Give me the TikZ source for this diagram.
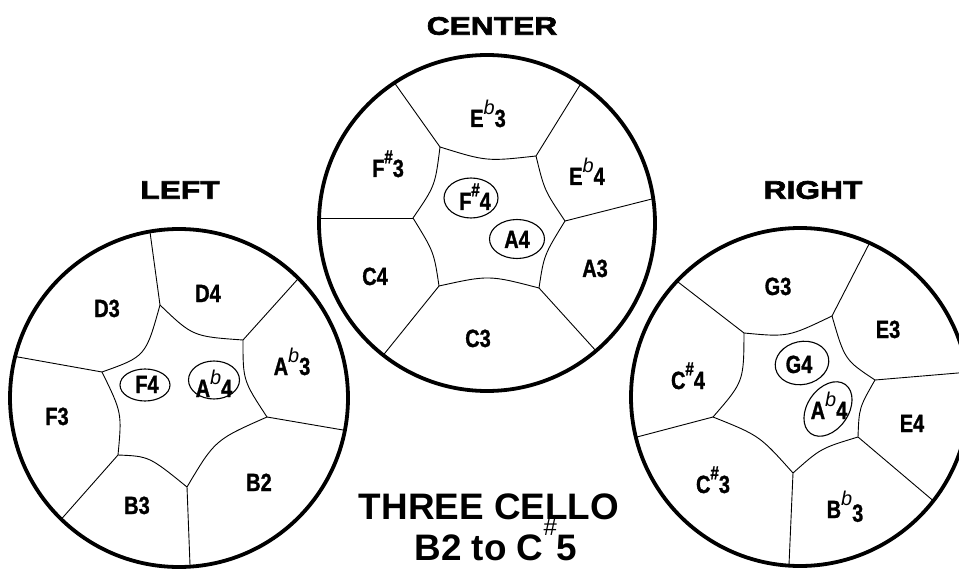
\documentclass[tikz,border=0pt]{standalone}
\usepackage{fontspec}
\setmainfont{Liberation Sans}
\newfontfamily\labfont{Liberation Sans}[FakeStretch=0.8,FakeBold=1.2]
\newfontfamily\titfont{Liberation Sans}[FakeStretch=1.25,FakeBold=2.5]
\usetikzlibrary{calc,shapes.geometric}
\newcommand\Fl[2]{#1\raisebox{0.5em}{\normalfont\fontsize{20}{20}\selectfont\itshape b}#2}
\newcommand\Sh[2]{#1\raisebox{0.55em}{\fontsize{19}{19}\selectfont\#}#2}
\tikzset{
  rim/.style={line width=3.8bp},
  seam/.style={line width=0.9bp},
  pad/.style={draw, line width=1.1bp, ellipse, inner sep=0pt},
  lab/.style={anchor=base, inner sep=0pt, font=\labfont\bfseries\fontsize{25}{25}\selectfont},
  ttl/.style={inner sep=0pt, font=\titfont\bfseries\fontsize{25.5}{25.5}\selectfont},
  big/.style={anchor=base, inner sep=0pt, font=\bfseries\fontsize{37}{37}\selectfont},
}
\begin{document}
\begin{tikzpicture}[x=1bp,y=-1bp]
\path[use as bounding box, fill=white] (0,0) rectangle (959,581);

% ---------- LEFT ----------
\coordinate (Lc) at (179,398);
\coordinate (L1) at (160,305); \coordinate (L2) at (243,340); \coordinate (L3) at (267,417);
\coordinate (L4) at (187,487); \coordinate (L5) at (118,455); \coordinate (L6) at (102,372);
\coordinate (Lm1) at (195,333); \coordinate (Lm2) at (246,380); \coordinate (Lm3) at (218,443);
\coordinate (Lm4) at (150,460); \coordinate (Lm5) at (119,413); \coordinate (Lm6) at (142,352);
\coordinate (Le1) at (150,232); \coordinate (Le2) at (297,280); \coordinate (Le3) at (343,430);
\coordinate (Le4) at (190,565); \coordinate (Le5) at (65,515); \coordinate (Le6) at (18,357);

% ---------- CENTER ----------
\coordinate (Cc) at (487,223);
\coordinate (C1) at (440,147); \coordinate (C2) at (536,156); \coordinate (C3) at (565,221);
\coordinate (C4) at (539,288); \coordinate (C5) at (439,286); \coordinate (C6) at (413,218);
\coordinate (Cm1) at (487,159); \coordinate (Cm2) at (546,190); \coordinate (Cm3) at (546,255);
\coordinate (Cm4) at (489,278); \coordinate (Cm5) at (432,252); \coordinate (Cm6) at (433,185);
\coordinate (Ce1) at (396,85); \coordinate (Ce2) at (580,85); \coordinate (Ce3) at (640,202);
\coordinate (Ce4) at (597,352); \coordinate (Ce5) at (385,353); \coordinate (Ce6) at (321,218);

% ---------- RIGHT ----------
\coordinate (Rc) at (800,397);
\coordinate (R1) at (744,333); \coordinate (R2) at (832,316); \coordinate (R3) at (875,380);
\coordinate (R4) at (858,437); \coordinate (R5) at (793,473); \coordinate (R6) at (713,417);
\coordinate (Rm1) at (788,334); \coordinate (Rm2) at (847,357); \coordinate (Rm3) at (861,408);
\coordinate (Rm4) at (822,450); \coordinate (Rm5) at (758,438); \coordinate (Rm6) at (740,380);
\coordinate (Re1) at (678,282); \coordinate (Re2) at (868,246); \coordinate (Re3) at (958,373);
\coordinate (Re4) at (930,498); \coordinate (Re5) at (789,565); \coordinate (Re6) at (637,437);

\foreach \P/\r in {L/169bp, C/168bp, R/169bp}{
  \begin{scope}
    \clip (\P c) circle[radius=\r];
    \foreach \i/\j in {1/2,2/3,3/4,4/5,5/6,6/1}
      \draw[seam] (\P\i) .. controls ($1.3333*(\P m\i)-0.1667*(\P\i)-0.1667*(\P\j)$) .. (\P\j);
    \foreach \i in {1,...,6}
      \draw[seam] (\P\i) -- ($(\P\i)!1.35!(\P e\i)$);
  \end{scope}
  \draw[rim] (\P c) circle[radius=\r];
}

% titles
\node[ttl] (tL) at (180,190) {LEFT};
\node[ttl] (tC) at (492,26) {CENTER};
\node[ttl] (tR) at (813,190) {RIGHT};

% left labels
\node[lab] (lD3) at (107,317) {D3};
\node[lab] (lD4) at (208,302) {D4};
\node[lab] (lAb3) at (292,375) {\Fl{A}{3}};
\node[lab] (lF3) at (57,425) {F3};
\node[lab] (lB3) at (137,514) {B3};
\node[lab] (lB2) at (259,491) {B2};
\node[pad, minimum width=50bp, minimum height=32bp] (eF4) at (145,385) {};
\node[lab] (lF4) at (147,393) {F4};
\node[pad, minimum width=51bp, minimum height=38bp] (eAb4) at (214,380) {};
\node[lab] (lAb4) at (214,397) {\Fl{A}{4}};

% center labels
\node[lab] (cEb3) at (488,127) {\Fl{E}{3}};
\node[lab] (cFs3) at (388,177) {\Sh{F}{3}};
\node[lab] (cEb4) at (587,185) {\Fl{E}{4}};
\node[lab] (cC4) at (375,285) {C4};
\node[lab] (cA3) at (595,277) {A3};
\node[lab] (cC3) at (478,347) {C3};
\node[pad, minimum width=54bp, minimum height=40bp] (eFs4) at (471,198) {};
\node[lab] (cFs4) at (475,210) {\Sh{F}{4}};
\node[pad, minimum width=55bp, minimum height=39bp] (eA4) at (517,239) {};
\node[lab] (cA4) at (517,248) {A4};

% right labels
\node[lab] (rG3) at (778,295) {G3};
\node[lab] (rE3) at (888,338) {E3};
\node[lab] (rCs4) at (688,389) {\Sh{C}{4}};
\node[lab] (rE4) at (912,432) {E4};
\node[lab] (rCs3) at (713,493) {\Sh{C}{3}};
\node[lab] (rBb3) at (845,518) {\Fl{B}{\raisebox{-0.15em}{3}}};
\node[pad, minimum width=54bp, minimum height=43bp, rotate=12] (eG4) at (802,363) {};
\node[lab] (rG4) at (799,373) {G4};
\node[pad, minimum width=60bp, minimum height=41bp, rotate=55] (eAb4r) at (828,409) {};
\node[lab] (rAb4) at (829,419) {\Fl{A}{4}};

% bottom title
\node[big] (t1) at (489,519) {THREE CELLO};
\node[big] (t2) at (496,560) {B2 to C\raisebox{0.66em}{\mdseries\fontsize{24}{24}\selectfont\#}5};
\end{tikzpicture}
\end{document}
